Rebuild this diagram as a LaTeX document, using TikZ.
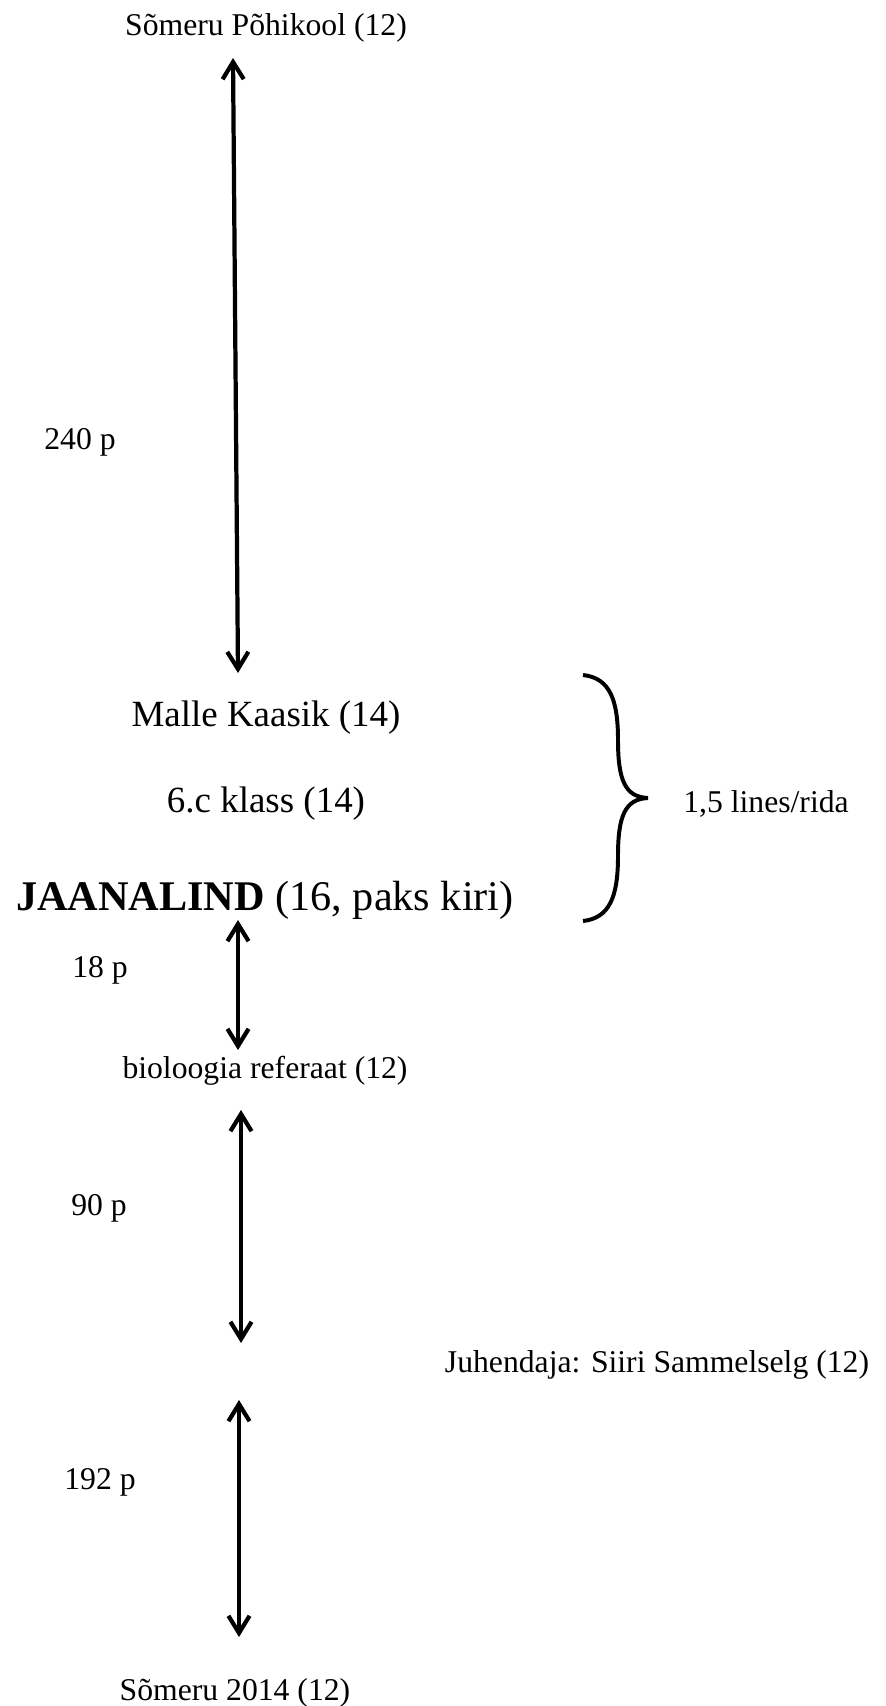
\documentclass[tikz,border=0pt]{standalone}
\usepackage{fontspec}
\setmainfont{Liberation Serif}
\usetikzlibrary{arrows.meta}
\begin{document}
\begin{tikzpicture}[x=0.3788pt,y=-0.3788pt,
  lbl/.style={inner sep=0pt, anchor=base, font=\fontsize{12}{14}\selectfont},
  lblm/.style={inner sep=0pt, anchor=base, font=\fontsize{14}{17}\selectfont},
  lbll/.style={inner sep=0pt, anchor=base, font=\fontsize{16}{19}\selectfont},
  dbl/.style={line width=1.6pt, {Straight Barb[length=6.5pt,width=8pt]}-{Straight Barb[length=6.5pt,width=8pt]}},
  bracestyle/.style={line width=1.5pt}]
\path[use as bounding box] (0,0) rectangle (885,1706);

\node[lbl] (top) at (266,35) {Sõmeru Põhikool (12)};
\node[lbl] (l240) at (80,449) {240 p};
\node[lblm] (malle) at (266,726) {Malle Kaasik (14)};
\node[lblm] (klass) at (266,812) {6.c klass (14)};
\node[lbll] (title) at (265,910) {\textbf{JAANALIND} (16, paks kiri)};
\node[lbl] (l18) at (100,977) {18 p};
\node[lbl] (bio) at (265,1078) {bioloogia referaat (12)};
\node[lbl] (l90) at (99,1215) {90 p};
\node[lbl] (juh) at (657,1372) {Juhendaja: Siiri Sammelselg (12)};
\node[lbl] (l192) at (100,1489) {192 p};
\node[lbl] (bottom) at (235,1700) {Sõmeru 2014 (12)};
\node[lbl] (rida) at (766,812) {1,5 lines/rida};

\coordinate (a1s) at (233,58);
\coordinate (a1e) at (238,673);
\coordinate (a2s) at (238,920);
\coordinate (a2e) at (238,1050);
\coordinate (a3s) at (241,1110);
\coordinate (a3e) at (241,1343);
\coordinate (a4s) at (239,1400);
\coordinate (a4e) at (239,1637);

\draw[dbl] (a1s) -- (a1e);
\draw[dbl] (a2s) -- (a2e);
\draw[dbl] (a3s) -- (a3e);
\draw[dbl] (a4s) -- (a4e);

\coordinate (brtop) at (583,675);
\coordinate (brtip) at (648,798);
\coordinate (brbot) at (583,921);
\draw[bracestyle] (brtop) .. controls (610,678) and (618,700) .. (618,740)
  .. controls (618,780) and (625,797) .. (brtip)
  .. controls (625,799) and (618,816) .. (618,856)
  .. controls (618,896) and (610,918) .. (brbot);
\end{tikzpicture}
\end{document}
